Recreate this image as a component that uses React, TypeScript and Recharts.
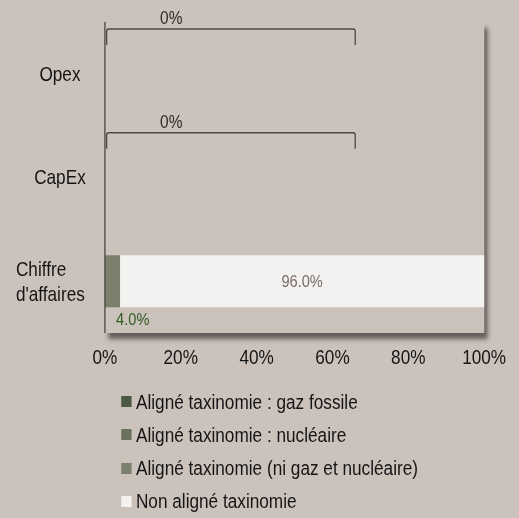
import React from 'react';
import { BarChart, Bar, XAxis, YAxis, Legend, ReferenceArea, LabelList } from 'recharts';

const categories = ['Opex', 'CapEx', "Chiffre d'affaires"];
const gazFossile = [0, 0, 0];
const nucleaire = [0, 0, 0];
const niGazNiNucleaire = [0, 0, 4.0];
const nonAligne = [0, 0, 96.0];
const bracketSpan = [66, 66, 0];
const xTicks = [0, 20, 40, 60, 80, 100];

const seriesKeys = ['gaz', 'nuc', 'ni', 'non'];
const seriesNames = [
  'Aligné taxinomie : gaz fossile',
  'Aligné taxinomie : nucléaire',
  'Aligné taxinomie (ni gaz et nucléaire)',
  'Non aligné taxinomie',
];
const seriesColors = ['#4c5a41', '#6a725d', '#7d7f6d', '#f3f2f0'];

const data = categories.map((name, i) => ({
  name,
  gaz: gazFossile[i],
  nuc: nucleaire[i],
  ni: niGazNiNucleaire[i],
  non: nonAligne[i],
  bracket: bracketSpan[i],
  alignedTotal: gazFossile[i] + nucleaire[i] + niGazNiNucleaire[i],
}));

const BG = '#ccc2bc';
const SCALE_X = 0.86;
const W = 604;
const H = 518;
const FONT = '"Liberation Sans", Arial, sans-serif';

const CategoryTick = (props: any) => {
  const { x, y, payload } = props;
  const words = String(payload.value).split(' ');
  if (words.length > 1) {
    return (
      <g>
        {words.map((w, i) => (
          <text key={w} x={x - 103.5} y={y + (i - (words.length - 1) / 2) * 25} textAnchor="start" dominantBaseline="central" fontSize={20} fill="#151515" fontFamily={FONT}>
            {w}
          </text>
        ))}
      </g>
    );
  }
  return (
    <text x={x - 52.3} y={y} textAnchor="middle" dominantBaseline="central" fontSize={20} fill="#151515" fontFamily={FONT}>
      {payload.value}
    </text>
  );
};

const BracketShape = (props: any) => {
  const { x, y, width, height } = props;
  if (!width || width <= 0) return null;
  const total = props.alignedTotal ?? props.payload?.alignedTotal ?? 0;
  const cy = y + height / 2;
  const top = cy - 45;
  const bottom = cy - 29;
  const x0 = x + 2;
  const x1 = x + width;
  const r = 2.5;
  const d = `M${x0},${bottom} L${x0},${top + r} Q${x0},${top} ${x0 + r},${top} L${x1 - r},${top} Q${x1},${top} ${x1},${top + r} L${x1},${bottom}`;
  return (
    <g>
      <path d={d} fill="none" stroke="#4d4846" strokeWidth={1.5} />
      <text x={x0 + (x1 - x0) * 0.26} y={cy - 56} textAnchor="middle" dominantBaseline="central" fontSize={18} fill="#2a2a2a" fontFamily={FONT}>
        {`${total.toFixed(0)}%`}
      </text>
    </g>
  );
};

const SmallLabel = (props: any) => {
  const { x, y, width, height, value } = props;
  if (!value) return null;
  return (
    <text x={x + 13} y={y + height + 12} textAnchor="start" dominantBaseline="central" fontSize={17} fill="#2f5c22" fontFamily={FONT}>
      {`${Number(value).toFixed(1)}%`}
    </text>
  );
};

const CenterLabel = (props: any) => {
  const { x, y, width, height, value } = props;
  if (!value) return null;
  return (
    <text x={x + width / 2} y={y + height / 2} textAnchor="middle" dominantBaseline="central" fontSize={17} fill="#7a6a6a" fontFamily={FONT}>
      {`${Number(value).toFixed(1)}%`}
    </text>
  );
};

const LegendContent = () => (
  <div style={{ height: 133, paddingLeft: 140.7, boxSizing: 'border-box', fontFamily: FONT }}>
    {seriesNames.map((n, i) => (
      <div key={n} style={{ height: 33.25, display: 'flex', alignItems: 'center' }}>
        <span style={{ width: 12.8, height: 11, background: seriesColors[i], marginRight: 4.6, display: 'inline-block', flex: 'none' }} />
        <span style={{ fontSize: 20, color: '#151515', lineHeight: '20px', whiteSpace: 'nowrap' }}>{n}</span>
      </div>
    ))}
  </div>
);

export default function App() {
  return (
    <div style={{ position: 'absolute', left: 0, top: 0, width: 519, height: 518, background: BG, overflow: 'hidden' }}>
      <div style={{ width: W, height: H, transform: `scaleX(${SCALE_X})`, transformOrigin: '0 0' }}>
        <BarChart
          width={W}
          height={H}
          data={data}
          layout="vertical"
          margin={{ top: 22, right: 41, bottom: 0, left: 0 }}
          barSize={52}
          style={{ fontFamily: FONT }}
        >
          <defs>
            <filter id="plotShadow" x="-5%" y="-5%" width="115%" height="120%">
              <feDropShadow dx={4} dy={6} stdDeviation={2.5} floodColor="#4f4a46" floodOpacity={0.85} />
            </filter>
          </defs>
          <ReferenceArea x1={0} x2={100} fill={BG} fillOpacity={1} stroke="none" filter="url(#plotShadow)" />
          <XAxis
            type="number"
            domain={[0, 100]}
            ticks={xTicks}
            tickFormatter={(v: number) => `${v}%`}
            axisLine={false}
            tickLine={false}
            tickSize={0}
            tickMargin={17}
            height={52}
            tick={{ fontSize: 20, fill: '#151515', fontFamily: FONT }}
            interval={0}
          />
          <YAxis
            type="category"
            dataKey="name"
            width={122}
            axisLine={{ stroke: '#4a4542', strokeWidth: 1.5 }}
            tickLine={false}
            tickSize={0}
            tickMargin={0}
            tick={<CategoryTick />}
            interval={0}
          />
          <Legend verticalAlign="bottom" align="left" content={<LegendContent />} wrapperStyle={{ left: 0, bottom: 0, width: W }} />
          {seriesKeys.map((k, i) => (
            <Bar key={k} dataKey={k} name={seriesNames[i]} stackId="s" fill={seriesColors[i]} isAnimationActive={false}>
              {k === 'ni' && <LabelList dataKey="ni" content={<SmallLabel />} />}
              {k === 'non' && <LabelList dataKey="non" content={<CenterLabel />} />}
            </Bar>
          ))}
          <Bar dataKey="bracket" stackId="s" fill="none" legendType="none" isAnimationActive={false} shape={<BracketShape />} />
        </BarChart>
      </div>
    </div>
  );
}
